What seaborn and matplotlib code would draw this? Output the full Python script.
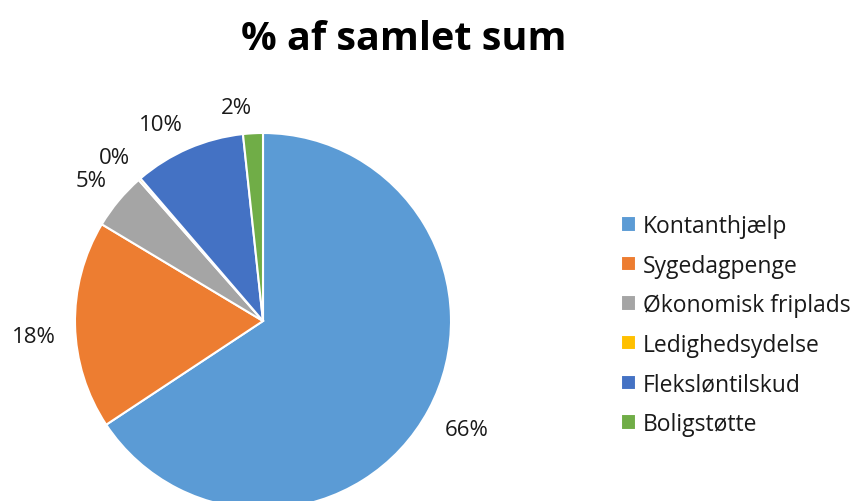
import numpy as np
import matplotlib.pyplot as plt
import seaborn as sns

# ─── Data ────────────────────────────────────────────────────────────────────
categories = ["Kontanthjælp", "Sygedagpenge", "Økonomisk friplads",
              "Ledighedsydelse", "Fleksløntilskud", "Boligstøtte"]
shares = [65.7, 17.9, 4.9, 0.2, 9.6, 1.7]
pct_labels = ["66%", "18%", "5%", "0%", "10%", "2%"]
colors = ["#5B9BD5", "#ED7D31", "#A5A5A5", "#FFC000", "#4472C4", "#70AD47"]

sns.set_theme(style="white")
plt.rcParams["font.family"] = ["Open Sans", "DejaVu Sans"]

fig = plt.figure(figsize=(8.54, 5.02), dpi=100)
# square axes placed so the pie sits left of centre, cut off at the bottom
ax = fig.add_axes([75 / 854, -8 / 502, 376 / 854, 376 / 502])

wedges, _ = ax.pie(shares, colors=colors, startangle=90, counterclock=False,
                   radius=1.0, wedgeprops=dict(edgecolor="white", linewidth=1.5))
ax.set_xlim(-1, 1)
ax.set_ylim(-1, 1)
ax.set_aspect("equal")
ax.axis("off")

# percentage labels just outside each slice, anchored by their near corner
for i, w in enumerate(wedges):
    a = np.deg2rad((w.theta1 + w.theta2) / 2)
    c, s = np.cos(a), np.sin(a)
    ha = "right" if c < 0 else "left"
    va = "bottom" if s > 0.3 else "top"
    r = 1.08 if s > 0.3 else 1.1
    ax.text(r * c, r * s, pct_labels[i], ha=ha, va=va, fontsize=16,
            color="#1a1a1a", clip_on=False)

fig.text(404 / 854, 1 - 39 / 502, "% af samlet sum", ha="center", va="center",
         fontsize=28.5, fontweight="bold", color="black")

fig.legend(wedges, categories, loc="center left", bbox_to_anchor=(600 / 854, 1 - 326 / 502),
           frameon=False, fontsize=16.5, handlelength=0.66, handleheight=0.66,
           handletextpad=0.3, labelspacing=0.68, labelcolor="#1a1a1a")

fig.savefig("out.png", dpi=100)
